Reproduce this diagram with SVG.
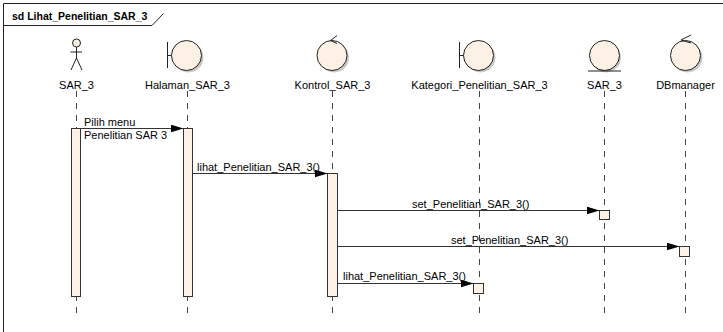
<svg xmlns="http://www.w3.org/2000/svg" width="723" height="332" viewBox="0 0 723 332">
<defs>
<style>
.t{font-family:"Liberation Sans",Arial,sans-serif;font-size:11px;fill:#000}
.tb{font-family:"Liberation Sans",Arial,sans-serif;font-size:10.5px;font-weight:bold;fill:#000}
.ic{fill:#FCF1E4;stroke:#222;stroke-width:1}
.sh{fill:#c8c8c8;stroke:none}
.ln{stroke:#222;stroke-width:1;fill:none}
.life{stroke:#444;stroke-width:1;stroke-dasharray:6,6;fill:none}
.bar{fill:#FCF1E4;stroke:#333;stroke-width:1}
.msg{stroke:#333;stroke-width:1;fill:none;marker-end:url(#ah)}
</style>
<marker id="ah" markerWidth="13" markerHeight="8" refX="13" refY="4" orient="auto" markerUnits="userSpaceOnUse">
<path d="M0,0 L13,4 L0,8 Z" fill="#000"/>
</marker>
</defs>
<rect x="0" y="0" width="723" height="332" fill="#fff"/>
<g id="frame">
<path class="ln" d="M3.5,332 V3.5 H723"/>
<path class="ln" d="M3.5,25.5 H152 L163.5,13.5"/>
<text class="tb" x="12" y="19.5">sd Lihat_Penelitian_SAR_3</text>
</g>
<g id="lifelines">
<path class="life" d="M76.5,91 V313"/>
<path class="life" d="M187.5,91 V313"/>
<path class="life" d="M332.5,91 V313"/>
<path class="life" d="M479.5,91 V313"/>
<path class="life" d="M604.5,91 V313"/>
<path class="life" d="M685.5,91 V313"/>
</g>
<g id="actor_SAR_3">
<circle class="ic" cx="76.5" cy="43" r="4"/>
<path class="ln" d="M76.5,47 V58 M70.5,52 H82 M76.5,58 L71,70 M76.5,58 L82,70"/>
<text class="t" x="76.5" y="89" text-anchor="middle">SAR_3</text>
</g>
<g id="Halaman_SAR_3">
<circle class="sh" cx="188.5" cy="57.5" r="15"/>
<circle class="ic" cx="186.5" cy="55.5" r="15"/>
<path class="ln" d="M167.5,42 V68 M167.5,55.5 H171.5"/>
<text class="t" x="187.5" y="89" text-anchor="middle">Halaman_SAR_3</text>
</g>
<g id="Kontrol_SAR_3">
<circle class="sh" cx="334" cy="57.5" r="15"/>
<circle class="ic" cx="332" cy="55.5" r="15"/>
<path class="ln" d="M337,35.5 L330.5,40.5 L337,43.5"/>
<text class="t" x="332.5" y="89" text-anchor="middle">Kontrol_SAR_3</text>
</g>
<g id="Kategori_Penelitian_SAR_3">
<circle class="sh" cx="480.5" cy="57.5" r="15"/>
<circle class="ic" cx="478.5" cy="55.5" r="15"/>
<path class="ln" d="M459.5,42 V68 M459.5,55.5 H463.5"/>
<text class="t" x="479.5" y="89" text-anchor="middle">Kategori_Penelitian_SAR_3</text>
</g>
<g id="SAR_3_entity">
<circle class="sh" cx="606" cy="57.5" r="15"/>
<circle class="ic" cx="604.5" cy="55.5" r="15"/>
<path class="ln" d="M588,71 H621"/>
<text class="t" x="604.5" y="89" text-anchor="middle">SAR_3</text>
</g>
<g id="DBmanager">
<circle class="sh" cx="687.5" cy="57.5" r="15"/>
<circle class="ic" cx="685.5" cy="55.5" r="15"/>
<path class="ln" d="M691,35 L681,40 L691,43"/>
<text class="t" x="685.5" y="89" text-anchor="middle">DBmanager</text>
</g>
<g id="activations">
<rect class="bar" x="71.5" y="128.5" width="9" height="168"/>
<rect class="bar" x="183.5" y="128.5" width="9" height="168"/>
<rect class="bar" x="327.5" y="173.5" width="10" height="123"/>
<rect class="bar" x="599.5" y="210.5" width="10" height="9"/>
<rect class="bar" x="679.5" y="246.5" width="10" height="10"/>
<rect class="bar" x="473.5" y="283.5" width="10" height="10"/>
</g>
<g id="connectors">
<path class="msg" d="M80.5,128.5 H183.5"/>
<path class="msg" d="M192.5,173.5 H327.5"/>
<path class="msg" d="M337.5,210.5 H599.5"/>
<path class="msg" d="M337.5,246.5 H679.5"/>
<path class="msg" d="M337.5,283.5 H473.5"/>
</g>
<g id="labels">
<text class="t" x="84" y="126">Pilih menu</text>
<text class="t" x="84" y="139">Penelitian SAR 3</text>
<text class="t" x="197" y="171">lihat_Penelitian_SAR_3()</text>
<text class="t" x="412" y="208">set_Penelitian_SAR_3()</text>
<text class="t" x="451" y="244">set_Penelitian_SAR_3()</text>
<text class="t" x="343" y="280">lihat_Penelitian_SAR_3()</text>
</g>
</svg>
